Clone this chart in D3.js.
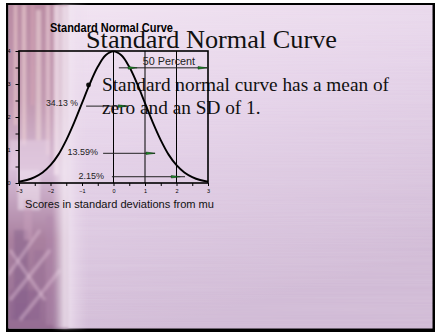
<!DOCTYPE html>
<html>
<head>
<meta charset="utf-8">
<script src="https://cdn.jsdelivr.net/npm/d3@7/dist/d3.min.js"></script>
<style>
  html, body { margin: 0; padding: 0; background: #fff; }
  svg { display: block; }
</style>
</head>
<body>
<svg id="slide" width="435" height="332"></svg>
<script>
// Standard normal density (x10) sampled every quarter SD
const zScores = [-3, -2.75, -2.5, -2.25, -2, -1.75, -1.5, -1.25, -1, -0.75, -0.5, -0.25, 0,
                 0.25, 0.5, 0.75, 1, 1.25, 1.5, 1.75, 2, 2.25, 2.5, 2.75, 3];
const density = [0.04, 0.09, 0.18, 0.32, 0.54, 0.86, 1.30, 1.83, 2.42, 3.01, 3.52, 3.87, 3.99,
                 3.87, 3.52, 3.01, 2.42, 1.83, 1.30, 0.86, 0.54, 0.32, 0.18, 0.09, 0.04];

// Axis ticks
const xTickLabels = [-3, -2, -1, 0, 1, 2, 3];
const yTickLabels = [0, 1, 2, 3, 4];
// Vertical reference lines at these SD values
const refLines = [0, 1, 2];

// Area annotations: label, arrow span and arrowhead positions (data units)
const annLabels = ["50 Percent", "34.13 %", "13.59%", "2.15%"];
const annLabelX = [1.76, -1.13, -0.49, -0.30];
const annLabelY = [3.70, 2.42, 0.94, 0.21];
const annLineY  = [3.49, 2.33, 0.90, 0.19];
const annLineX0 = [0.17, -0.87, -0.33, -0.05];
const annLineX1 = [2.97, 0.46, 1.32, 2.27];
const annHeads  = [[0.75, 2.97], [0.44], [1.32], [2.12]];

const chartTitle = "Standard Normal Curve";
const xAxisTitle = "Scores in standard deviations from mu";
const slideTitle = "Standard Normal Curve";
const bulletLines = ["Standard normal curve has a mean of", "zero and an SD of 1."];

const svg = d3.select("#slide");
const defs = svg.append("defs");

// ---------- slide background ----------
const bgGrad = defs.append("linearGradient").attr("id", "bgMain")
  .attr("x1", 0).attr("y1", 0).attr("x2", 0.35).attr("y2", 1);
[["0%", "#f2e4f2"], ["45%", "#e4d1e8"], ["100%", "#cfb8d4"]].forEach(([o, c]) =>
  bgGrad.append("stop").attr("offset", o).attr("stop-color", c));

const stripGrad = defs.append("linearGradient").attr("id", "strip")
  .attr("x1", 0).attr("y1", 0).attr("x2", 0).attr("y2", 1);
[["0%", "#b98aa2"], ["30%", "#c198b0"], ["52%", "#d6bcd6"], ["72%", "#a9809f"], ["100%", "#946c92"]]
  .forEach(([o, c]) => stripGrad.append("stop").attr("offset", o).attr("stop-color", c));

const fadeGrad = defs.append("linearGradient").attr("id", "fade")
  .attr("x1", 0).attr("y1", 0).attr("x2", 1).attr("y2", 0);
[["0%", "#f4eaf4", 0], ["35%", "#f4eaf4", 0.85], ["100%", "#e6d4e8", 0]].forEach(([o, c, a]) =>
  fadeGrad.append("stop").attr("offset", o).attr("stop-color", c).attr("stop-opacity", a));

const blur = defs.append("filter").attr("id", "soft").attr("x", "-20%").attr("y", "-20%")
  .attr("width", "140%").attr("height", "140%");
blur.append("feGaussianBlur").attr("stdDeviation", 1.8);

const brushed = defs.append("filter").attr("id", "brushed");
brushed.append("feTurbulence").attr("type", "fractalNoise")
  .attr("baseFrequency", "0.004 0.7").attr("numOctaves", 2).attr("seed", 4);
brushed.append("feColorMatrix").attr("type", "matrix")
  .attr("values", "0 0 0 0 1  0 0 0 0 1  0 0 0 0 1  0 0 0 0.14 0");
brushed.append("feComposite").attr("in2", "SourceGraphic").attr("operator", "in");

svg.append("rect").attr("width", 435).attr("height", 332).attr("fill", "#fff");
svg.append("rect").attr("x", 6).attr("y", 3).attr("width", 429).attr("height", 329).attr("fill", "#000");

const bg = svg.append("g");
bg.append("rect").attr("x", 8.5).attr("y", 5).attr("width", 424).attr("height", 323.5).attr("fill", "url(#bgMain)");
bg.append("rect").attr("x", 8.5).attr("y", 5).attr("width", 424).attr("height", 323.5)
  .attr("fill", "#fff").attr("filter", "url(#brushed)");

// marbled strip on the left edge
const clip = defs.append("clipPath").attr("id", "stripClip");
clip.append("rect").attr("x", 8.5).attr("y", 5).attr("width", 70).attr("height", 323.5);
const strip = bg.append("g").attr("clip-path", "url(#stripClip)").append("g").attr("filter", "url(#soft)");
strip.append("rect").attr("x", 6).attr("y", 0).attr("width", 62).attr("height", 332).attr("fill", "url(#strip)");
const streaks = [
  [14, 5, 3, 120, "#e9c8cc", 0.7], [22, 5, 4, 140, "#f0d4d6", 0.6], [31, 5, 3, 100, "#d8a8b8", 0.6],
  [36, 10, 5, 130, "#f3dcdc", 0.55], [46, 5, 4, 150, "#efd2da", 0.6], [54, 5, 5, 170, "#f6e6ee", 0.6],
  [10, 140, 40, 30, "#e8d2e6", 0.55], [18, 170, 22, 40, "#f4e8f2", 0.55],
  [14, 230, 14, 90, "#7e5a86", 0.4], [34, 250, 10, 70, "#9a7296", 0.45], [46, 215, 8, 110, "#b28aac", 0.45],
  [24, 200, 8, 40, "#c8a0bc", 0.5], [10, 290, 30, 30, "#86608c", 0.4]
];
streaks.forEach(([x, y, w, h, c, o]) =>
  strip.append("rect").attr("x", x).attr("y", y).attr("width", w).attr("height", h)
    .attr("fill", c).attr("opacity", o));
// diagonal weave in the lower part of the strip
[[10, 250, 45, 300], [10, 300, 50, 250], [20, 320, 60, 270], [8, 275, 40, 230]].forEach(([x1, y1, x2, y2]) =>
  strip.append("line").attr("x1", x1).attr("y1", y1).attr("x2", x2).attr("y2", y2)
    .attr("stroke", "#e2c2d8").attr("stroke-width", 3).attr("opacity", 0.5));
bg.append("rect").attr("x", 52).attr("y", 5).attr("width", 36).attr("height", 323.5)
  .attr("fill", "url(#fade)").attr("filter", "url(#soft)");

// ---------- slide text ----------
svg.append("text").attr("x", 86).attr("y", 48)
  .attr("font-family", "'Liberation Serif', 'Times New Roman', serif").attr("font-size", 26)
  .attr("fill", "#111").attr("textLength", 251).attr("lengthAdjust", "spacingAndGlyphs")
  .text(slideTitle);
svg.append("circle").attr("cx", 88.5).attr("cy", 85).attr("r", 2.4).attr("fill", "#111");
svg.selectAll("text.bullet").data(bulletLines).join("text").attr("class", "bullet")
  .attr("x", 102).attr("y", (d, i) => 91 + i * 22.5)
  .attr("font-family", "'Liberation Serif', 'Times New Roman', serif").attr("font-size", 19.3)
  .attr("fill", "#111").text(d => d);

// ---------- chart ----------
const x = d3.scaleLinear().domain([-3, 3]).range([19, 208]);
const y = d3.scaleLinear().domain([0, 4]).range([183, 51]);
const chart = svg.append("g");
const sans = "'Liberation Sans', Arial, sans-serif";

chart.append("text").attr("x", 50).attr("y", 31.5)
  .attr("font-family", sans).attr("font-weight", "bold").attr("font-size", 12.5)
  .attr("fill", "#000").attr("textLength", 123).attr("lengthAdjust", "spacingAndGlyphs")
  .text(chartTitle);

// reference lines
chart.selectAll("line.ref").data(refLines).join("line").attr("class", "ref")
  .attr("x1", d => x(d)).attr("x2", d => x(d)).attr("y1", y(4)).attr("y2", y(0))
  .attr("stroke", "#000").attr("stroke-width", 1);

// axes: half-unit minor ticks, labels on whole units
const xAxis = d3.axisBottom(x).tickValues(d3.range(-3, 3.01, 0.5)).tickSize(3).tickPadding(3)
  .tickFormat(d => xTickLabels.includes(d) ? d3.format("d")(d) : "");
const gx = chart.append("g").attr("transform", `translate(0,${y(0)})`).call(xAxis);
gx.select(".domain").remove();
gx.selectAll("line").attr("stroke", "#000").attr("stroke-width", 1);
gx.selectAll("text").attr("font-family", sans).attr("font-size", 5.5).attr("fill", "#000");

const yAxis = d3.axisLeft(y).tickValues(d3.range(0, 4.01, 0.5)).tickSize(3.5).tickPadding(5)
  .tickFormat(d => yTickLabels.includes(d) ? d3.format("d")(d) : "");
const gy = chart.append("g").attr("transform", `translate(${x(-3)},0)`).call(yAxis);
gy.select(".domain").remove();
gy.selectAll("line").attr("stroke", "#000").attr("stroke-width", 1);
gy.selectAll("text").attr("font-family", sans).attr("font-size", 5.5).attr("fill", "#000");

// plot frame
chart.append("rect").attr("x", x(-3)).attr("y", y(4)).attr("width", x(3) - x(-3)).attr("height", y(0) - y(4))
  .attr("fill", "none").attr("stroke", "#000").attr("stroke-width", 1.6);

// density curve
const pts = zScores.map((z, i) => [z, density[i]]);
chart.append("path").datum(pts)
  .attr("d", d3.line().x(d => x(d[0])).y(d => y(d[1])).curve(d3.curveCatmullRom))
  .attr("fill", "none").attr("stroke", "#000").attr("stroke-width", 1.9);

// annotations
annLabels.forEach((lab, i) => {
  chart.append("line")
    .attr("x1", x(annLineX0[i])).attr("x2", x(annLineX1[i]))
    .attr("y1", y(annLineY[i])).attr("y2", y(annLineY[i]))
    .attr("stroke", "#222").attr("stroke-width", 1);
  annHeads[i].forEach(h => {
    const hx = x(h), hy = y(annLineY[i]);
    chart.append("path")
      .attr("d", `M${hx},${hy} L${hx - 9},${hy - 1.3} L${hx - 9},${hy + 1.3} Z`)
      .attr("fill", "#1c8a26").attr("stroke", "#0c3010").attr("stroke-width", 0.5);
  });
  chart.append("text")
    .attr("x", x(annLabelX[i])).attr("y", y(annLabelY[i]))
    .attr("dy", "0.35em")
    .attr("text-anchor", i === 0 ? "middle" : "end")
    .attr("font-family", sans).attr("font-size", i === 0 ? 10.8 : (i === 1 ? 8.7 : 9))
    .attr("fill", "#222").text(lab);
});

chart.append("text").attr("x", 25).attr("y", 208)
  .attr("font-family", sans).attr("font-size", 11).attr("fill", "#111")
  .attr("textLength", 189).attr("lengthAdjust", "spacingAndGlyphs")
  .text(xAxisTitle);
</script>
</body>
</html>
